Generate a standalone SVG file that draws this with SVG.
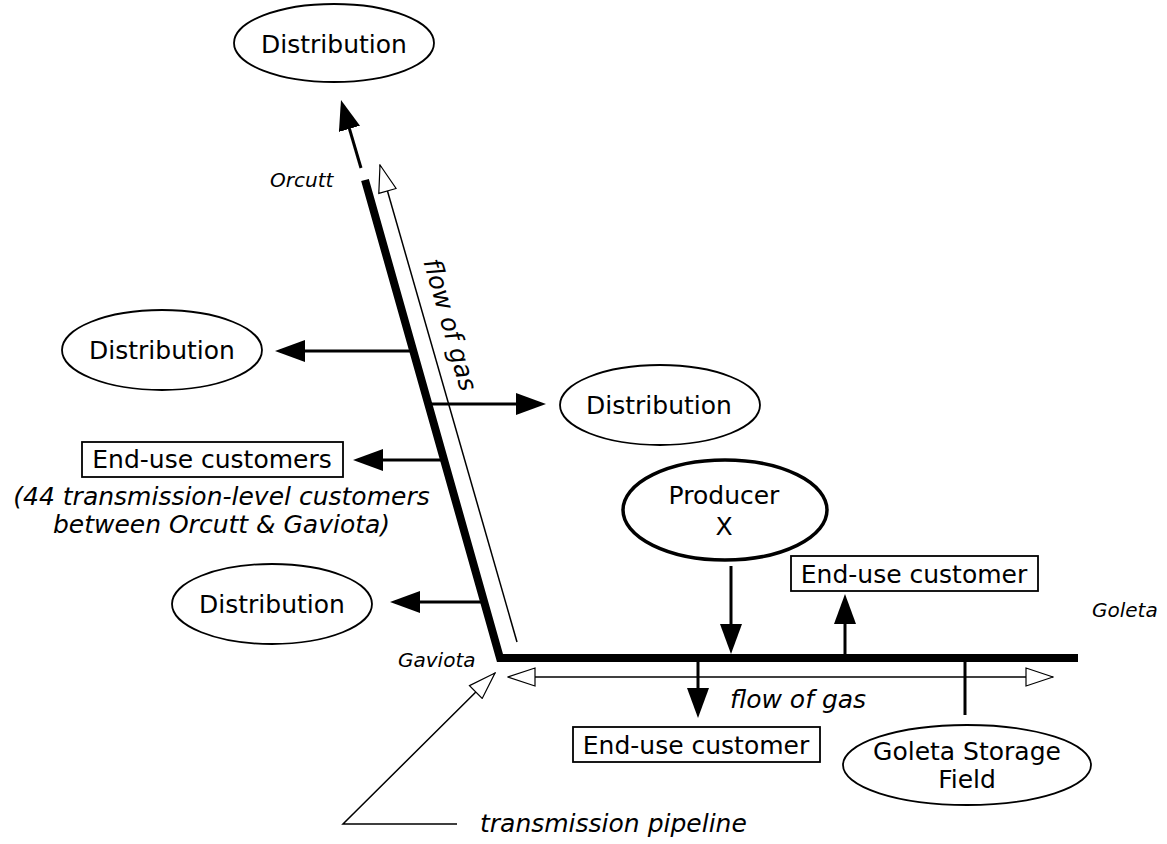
<svg xmlns="http://www.w3.org/2000/svg" width="1167" height="844" viewBox="0 0 1167 844">
<style>
text{font-family:"DejaVu Sans","Liberation Sans",sans-serif;font-size:25px;fill:#000}
.it{font-style:italic}
.sm{font-size:20px}
.mid{text-anchor:middle}
.node{fill:#fff;stroke:#000;stroke-width:1.8}
.prod{stroke-width:3.5}
.pipe{fill:none;stroke:#000;stroke-width:8;stroke-linejoin:miter}
.con{fill:none;stroke:#000;stroke-width:3}
.flow{fill:none;stroke:#000;stroke-width:1.5}
</style>
<defs>
<marker id="ah" viewBox="0 0 30 22" markerWidth="30" markerHeight="22" refX="25" refY="11" orient="auto" markerUnits="userSpaceOnUse"><path d="M0,0 L30,11 L0,22 z" fill="#000"/></marker>
<marker id="oh" viewBox="-1 -1 29 20" markerWidth="29" markerHeight="20" refX="27" refY="9" orient="auto-start-reverse" markerUnits="userSpaceOnUse"><path d="M0,0 L27,9 L0,18 z" fill="#fff" stroke="#000" stroke-width="1.2"/></marker>
</defs>
<rect width="1167" height="844" fill="#fff"/>

<g id="connectors">
<path class="pipe" d="M365,180 L500,658 L1078,658"/>
<path class="con" d="M361,168 L342.4,104.8" marker-end="url(#ah)"/>
<path class="con" d="M410,351 L280,351" marker-end="url(#ah)"/>
<path class="con" d="M441,460 L358,460" marker-end="url(#ah)"/>
<path class="con" d="M430,404 L541,404" marker-end="url(#ah)"/>
<path class="con" d="M482,602 L395,602" marker-end="url(#ah)"/>
<path class="con" d="M731,566 L731,649" marker-end="url(#ah)"/>
<path class="con" d="M845,656 L845,599" marker-end="url(#ah)"/>
<path class="con" d="M698,660 L698,713" marker-end="url(#ah)"/>
<path class="con" d="M965,660 L965,715"/>
<path class="flow" d="M517,642 L380,165" marker-end="url(#oh)"/>
<path class="flow" d="M508,677 L1053,677" marker-start="url(#oh)" marker-end="url(#oh)"/>
<path class="flow" d="M457,824 L343,824 L495,673" marker-end="url(#oh)"/>
</g>

<g id="dist-top"><ellipse class="node" cx="334" cy="43" rx="100" ry="39"/><text class="mid" x="334" y="53">Distribution</text></g>
<g id="dist-left"><ellipse class="node" cx="162" cy="350" rx="100" ry="40"/><text class="mid" x="162" y="359">Distribution</text></g>
<g id="dist-right"><ellipse class="node" cx="660" cy="405" rx="100" ry="40"/><text class="mid" x="659" y="414">Distribution</text></g>
<g id="dist-bottom"><ellipse class="node" cx="272" cy="604" rx="100" ry="40"/><text class="mid" x="272" y="613">Distribution</text></g>
<g id="enduse-left"><rect class="node" x="82" y="442" width="261" height="35"/><text class="mid" x="212" y="468">End-use customers</text></g>
<g id="enduse-note"><text class="it mid" x="221.5" y="505">(44 transmission-level customers</text><text class="it mid" x="221.5" y="533">between Orcutt &amp; Gaviota)</text></g>
<g id="producer"><ellipse class="node prod" cx="725" cy="510" rx="102" ry="50"/><text class="mid" x="724" y="504">Producer</text><text class="mid" x="724" y="535">X</text></g>
<g id="enduse-upper"><rect class="node" x="791" y="556" width="247" height="35"/><text class="mid" x="914" y="583">End-use customer</text></g>
<g id="enduse-lower"><rect class="node" x="573" y="727" width="247" height="35"/><text class="mid" x="696" y="754">End-use customer</text></g>
<g id="storage"><ellipse class="node" cx="967" cy="765" rx="124" ry="40"/><text class="mid" x="967" y="760">Goleta Storage</text><text class="mid" x="967" y="788">Field</text></g>

<g id="labels">
<text class="it sm" x="270" y="187">Orcutt</text>
<text class="it sm" x="398" y="667">Gaviota</text>
<text class="it sm" x="1092" y="617">Goleta</text>
<text class="it" x="730" y="708">flow of gas</text>
<text class="it mid" transform="translate(442,327) rotate(74)">flow of gas</text>
<text class="it" x="480" y="832">transmission pipeline</text>
</g>
</svg>
